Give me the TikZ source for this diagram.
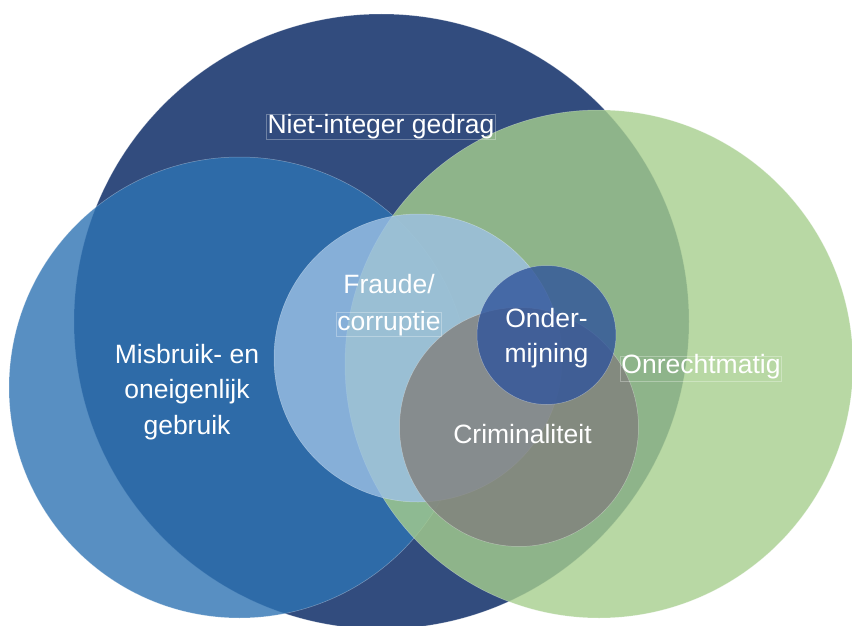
\documentclass[tikz,border=0pt]{standalone}
\usepackage{fontspec}
\setmainfont{Liberation Sans}
\definecolor{navyc}{RGB}{50,76,126}
\definecolor{bluec}{RGB}{46,115,179}
\definecolor{greenc}{RGB}{166,206,141}
\definecolor{fraudec}{RGB}{157,193,229}
\definecolor{crimc}{RGB}{129,128,125}
\definecolor{ondc}{RGB}{48,84,155}
\tikzset{
  venn/.style={draw=white, draw opacity=0.35, line width=0.5pt},
  translucent/.style={fill opacity=0.8},
  lbl/.style={text=white, inner sep=0pt, inner xsep=1pt},
  lblbox/.style={draw=white, draw opacity=0.3, line width=0.5pt},
}
\begin{document}
\begin{tikzpicture}[x=1pt,y=-1pt]
\useasboundingbox (0,0) rectangle (852,626);
% circles
\path[venn, fill=navyc] (381.5,321.5) circle[radius=307.5];
\path[venn, translucent, fill=bluec] (239.5,387.5) circle[radius=230.5];
\path[venn, translucent, fill=greenc] (599,364) circle[radius=254];
\path[venn, translucent, fill=fraudec] (418,358) circle[radius=144];
\path[venn, translucent, fill=crimc] (519,427) circle[radius=119.5];
\path[venn, translucent, fill=ondc] (546.5,335) circle[radius=69.5];
% labels
\node[lbl, lblbox, anchor=base, text height=19pt, text depth=6pt,
      font=\fontsize{26.5}{32}\selectfont] (niet) at (381,133) {Niet-integer gedrag};
\node[lbl, align=center, anchor=base,
      font=\fontsize{26.5}{35.5}\selectfont] (misb) at (187,434) {Misbruik- en\\oneigenlijk\\gebruik};
\node[lbl, anchor=base, font=\fontsize{26.5}{32}\selectfont] (fraude) at (389,293) {Fraude/};
\node[lbl, lblbox, anchor=base, text height=18pt, text depth=6pt,
      font=\fontsize{26.5}{32}\selectfont] (corr) at (389,330) {corruptie};
\node[lbl, align=center, anchor=base,
      font=\fontsize{26.5}{35}\selectfont] (ond) at (546.5,362) {Onder-\\mijning};
\node[lbl, anchor=base, font=\fontsize{26.5}{32}\selectfont] (crim) at (522.5,443) {Criminaliteit};
\node[lbl, lblbox, anchor=base, text height=17pt, text depth=8pt,
      font=\fontsize{26.5}{32}\selectfont] (onr) at (701,373) {Onrechtmatig};
\end{tikzpicture}
\end{document}
